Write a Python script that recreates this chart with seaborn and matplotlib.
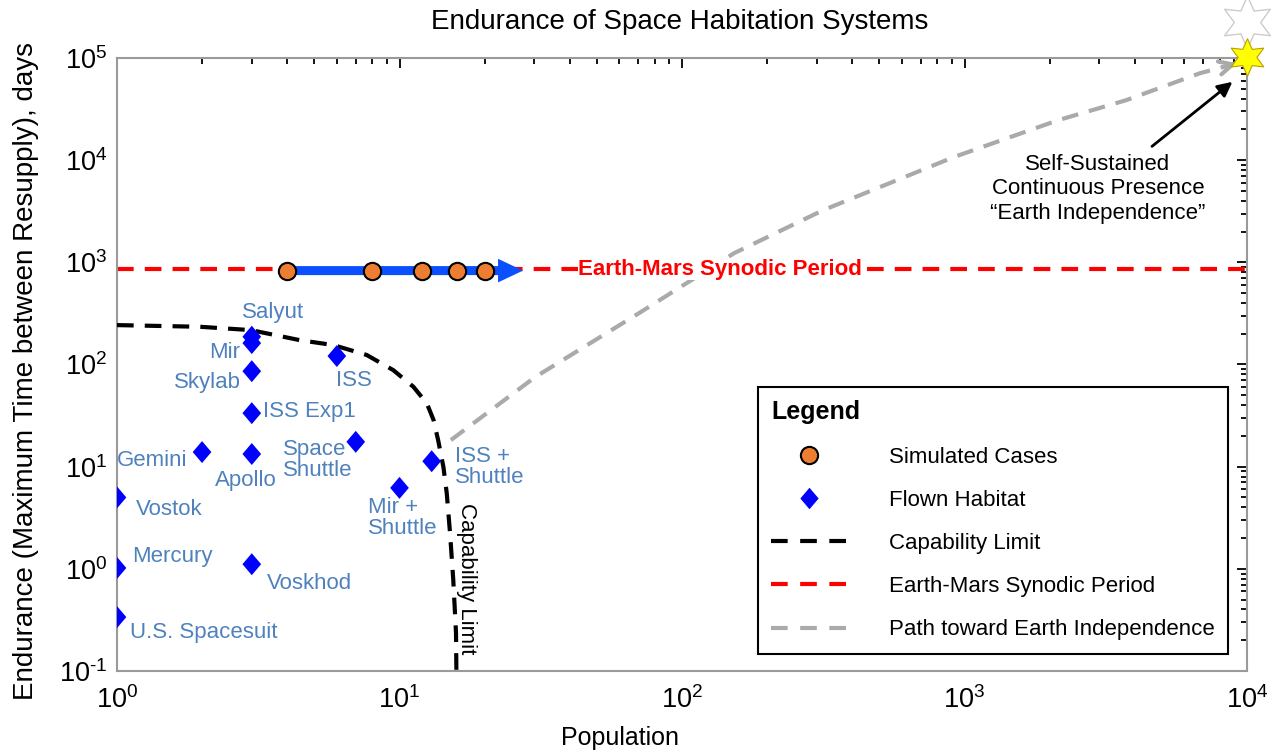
import numpy as np
import pandas as pd
import matplotlib
matplotlib.use("Agg")
import matplotlib.pyplot as plt
import seaborn as sns
from matplotlib.lines import Line2D
from matplotlib.patches import FancyArrowPatch
from matplotlib.path import Path
from matplotlib.ticker import LogLocator, FuncFormatter, NullFormatter

# ---------------- data ----------------
title = "Endurance of Space Habitation Systems"
x_label = "Population"
y_label = "Endurance (Maximum Time between Resupply), days"

habitat_names = ["U.S. Spacesuit", "Mercury", "Vostok", "Gemini", "Apollo", "Voskhod",
                 "ISS Exp1", "Skylab", "Mir", "Salyut", "ISS", "Space\nShuttle",
                 "Mir +\nShuttle", "ISS +\nShuttle"]
habitat_population = [1, 1, 1, 2, 3, 3, 3, 3, 3, 3, 6, 7, 10, 13]
habitat_endurance = [0.337, 1.02, 5.0, 13.9, 13.3, 1.11, 33.4, 86, 162, 187, 121, 17.5, 6.2, 11.3]

sim_population = [4, 8, 12, 16, 20]
sim_endurance = [830, 830, 830, 830, 830]
sim_arrow_end_population = 28

synodic_period = 860
synodic_label = "Earth-Mars Synodic Period"

cap_population = [1.0, 1.97, 2.98, 4.44, 5.83, 7.65, 9.51, 11.2, 12.5, 13.2, 13.7,
                  14.3, 14.7, 15.1, 15.5, 15.85, 15.9]
cap_endurance = [243, 234, 217, 173, 155, 124, 88, 60.5, 41.6, 28.6, 18.2,
                 9.98, 5.48, 2.22, 0.78, 0.235, 0.1]
cap_label = "Capability Limit"

path_population = [15.2, 30.2, 70.4, 153, 316, 915, 2143, 3730, 6820, 9220]
path_endurance = [18.2, 75.3, 318, 1230, 3240, 10700, 24600, 38600, 71000, 88900]

star_population = 1e4
star_endurance = 1.02e5
ghost_star_endurance = 2.24e5
independence_label = "Self-Sustained\nContinuous Presence\n\u201cEarth Independence\u201d"

legend_title = "Legend"
legend_labels = ["Simulated Cases", "Flown Habitat", "Capability Limit",
                 "Earth-Mars Synodic Period", "Path toward Earth Independence"]

# label offsets (points) and alignment for habitat names
label_offsets = {
    "U.S. Spacesuit": (9.4, -10.8, "left"),
    "Mercury": (10.8, 8.6, "left"),
    "Vostok": (13.7, -8.6, "left"),
    "Gemini": (-10.8, -5.8, "right"),
    "Apollo": (-4.3, -19.4, "center"),
    "Voskhod": (10.8, -13.7, "left"),
    "ISS Exp1": (7.9, 1.4, "left"),
    "Skylab": (-7.9, -7.9, "right"),
    "Mir": (-8.6, -6.5, "right"),
    "Salyut": (-7.2, 17.3, "left"),
    "ISS": (-0.7, -17.3, "left"),
    "Space\nShuttle": (-2.2, -13.0, "right"),
    "Mir +\nShuttle": (-23.0, -22.0, "left"),
    "ISS +\nShuttle": (16.6, -4.3, "left"),
}

# ---------------- style ----------------
sns.set_style("white")
plt.rcParams["font.family"] = ["Liberation Sans", "DejaVu Sans"]
plt.rcParams["mathtext.fontset"] = "custom"
plt.rcParams["mathtext.rm"] = "Liberation Sans"
plt.rcParams["mathtext.it"] = "Liberation Sans:italic"
plt.rcParams["mathtext.bf"] = "Liberation Sans:bold"
plt.rcParams["mathtext.default"] = "regular"
plt.rcParams["axes.unicode_minus"] = False
plt.rcParams["lines.scale_dashes"] = False
plt.rcParams["text.color"] = "black"
plt.rcParams["axes.labelcolor"] = "black"
plt.rcParams["xtick.color"] = "black"
plt.rcParams["ytick.color"] = "black"
plt.rcParams["legend.labelcolor"] = "black"

ORANGE = "#ED7D31"
DIAMOND_BLUE = "#0000FF"
ARROW_BLUE = "#0A50FF"
LABEL_BLUE = "#4F81BD"
GRAY = "#AAAAAA"
DASH = (0, (12, 8))

diamond = Path([(0, 1), (0.85, 0), (0, -1), (-0.85, 0), (0, 1)],
               [Path.MOVETO, Path.LINETO, Path.LINETO, Path.LINETO, Path.CLOSEPOLY])


def decade_label(v, _pos):
    e = int(round(np.log10(v)))
    s = str(e).replace("-", r"\text{-}")
    return r"$10^{%s}$" % s


fig = plt.figure(figsize=(12.75, 7.52), dpi=100)
ax = fig.add_axes([117 / 1275, 1 - 671 / 752, 1130 / 1275, 613 / 752])
ax.set_xscale("log")
ax.set_yscale("log")
ax.set_xlim(1, 1e4)
ax.set_ylim(0.1, 1e5)

# synodic period line
ax.axhline(synodic_period, color="red", lw=3, ls=DASH, zorder=2)

# capability limit
sns.lineplot(x=cap_population, y=cap_endurance, sort=False, estimator=None,
             color="black", lw=3, linestyle=DASH, ax=ax, zorder=3)

# path toward earth independence
sns.lineplot(x=path_population, y=path_endurance, sort=False, estimator=None,
             color=GRAY, lw=3, linestyle=DASH, ax=ax, zorder=2)
lx = np.log10(path_population[-2:])
ly = np.log10(path_endurance[-2:])
tail = (10 ** (lx[1] - 0.08 * (lx[1] - lx[0])), 10 ** (ly[1] - 0.08 * (ly[1] - ly[0])))
ax.annotate("", xy=(path_population[-1], path_endurance[-1]), xytext=tail,
            arrowprops=dict(arrowstyle="->", color=GRAY, lw=3, mutation_scale=24),
            zorder=3)

# blue arrow of simulated cases
arrow = FancyArrowPatch((sim_population[0], sim_endurance[0]),
                        (sim_arrow_end_population, sim_endurance[0]),
                        arrowstyle="simple,head_length=18,head_width=17,tail_width=6.5",
                        mutation_scale=1, color=ARROW_BLUE, lw=0, zorder=5)
ax.add_patch(arrow)

# simulated cases
sns.scatterplot(x=sim_population, y=sim_endurance, marker="o", s=155, color=ORANGE,
                edgecolor="black", linewidth=1.5, ax=ax, zorder=6)

# flown habitats
sns.scatterplot(x=habitat_population, y=habitat_endurance, marker=diamond, s=250,
                color=DIAMOND_BLUE, edgecolor="none", linewidth=0, ax=ax, zorder=6)
for name, px, py in zip(habitat_names, habitat_population, habitat_endurance):
    dx, dy, ha = label_offsets[name]
    ax.annotate(name, (px, py), xytext=(dx, dy), textcoords="offset points",
                ha=ha, va="center", multialignment="left", fontsize=16,
                color=LABEL_BLUE, linespacing=1.0, zorder=7)

# synodic label
ax.text((720 - 117) / 1130, synodic_period, synodic_label, transform=ax.get_yaxis_transform(),
        ha="center", va="center", color="red", fontsize=16, fontweight="bold",
        bbox=dict(facecolor="white", edgecolor="none", pad=0), zorder=4)

# capability limit label
ax.text(17.3, 0.8, cap_label, rotation=270, ha="center", va="center", fontsize=16,
        color="black", zorder=7)

# stars
sns.scatterplot(x=[star_population], y=[ghost_star_endurance], marker=(6, 1, 0), s=38 ** 2,
                color="white", edgecolor="#CCCCCC", linewidth=1.0, ax=ax, zorder=9,
                clip_on=False)
sns.scatterplot(x=[star_population], y=[star_endurance], marker=(6, 1, 0), s=27 ** 2,
                color="#FFFF00", edgecolor="#B8A000", linewidth=0.8, ax=ax, zorder=10,
                clip_on=False)

# independence annotation
ax.text((1098 - 117) / 1130, (671 - 189) / 613, independence_label, transform=ax.transAxes,
        ha="center", va="center", fontsize=16, color="black", zorder=7)
ax.annotate("", xy=(0.989, 0.964), xytext=(0.914, 0.853), xycoords="axes fraction",
            textcoords="axes fraction",
            arrowprops=dict(arrowstyle="-|>", color="black", lw=2, mutation_scale=22),
            zorder=8)

# axes
ax.xaxis.set_major_locator(LogLocator(base=10, numticks=20))
ax.yaxis.set_major_locator(LogLocator(base=10, numticks=20))
ax.xaxis.set_minor_locator(LogLocator(base=10, subs=np.arange(2, 10), numticks=100))
ax.yaxis.set_minor_locator(LogLocator(base=10, subs=np.arange(2, 10), numticks=100))
ax.xaxis.set_major_formatter(FuncFormatter(decade_label))
ax.yaxis.set_major_formatter(FuncFormatter(decade_label))
ax.xaxis.set_minor_formatter(NullFormatter())
ax.yaxis.set_minor_formatter(NullFormatter())
ax.tick_params(which="both", direction="in", top=True, right=True, color="black",
               labelcolor="black", width=1.3)
ax.tick_params(which="major", length=7, labelsize=19.5)
ax.tick_params(which="minor", length=4)
ax.tick_params(axis="x", which="major", pad=11)
ax.tick_params(axis="y", which="major", pad=7)
for s in ax.spines.values():
    s.set_color("#9A9A9A")
    s.set_linewidth(1.5)

ax.set_xlabel(x_label, fontsize=18, color="black")
ax.set_ylabel(y_label, fontsize=20, color="black")
ax.xaxis.set_label_coords((620 - 117) / 1130, -0.09)
ax.yaxis.set_label_coords(-0.069, 0.49)
ax.set_title(title, fontsize=20, x=(680 - 117) / 1130, pad=21, color="black")

# legend
handles = [
    Line2D([], [], ls="none", marker="o", ms=12.4, mfc=ORANGE, mec="black", mew=1.5),
    Line2D([], [], ls="none", marker=diamond, ms=15.5, mfc=DIAMOND_BLUE, mec="none"),
    Line2D([], [], color="black", lw=3, ls=(0, (12, 9))),
    Line2D([], [], color="red", lw=3, ls=(0, (12, 9))),
    Line2D([], [], color=GRAY, lw=3, ls=(0, (12, 9))),
]
leg = ax.legend(handles, legend_labels, title=legend_title, loc="upper left",
                bbox_to_anchor=(758 / 1275, 1 - 387 / 752), bbox_transform=fig.transFigure,
                borderaxespad=0, fontsize=16,
                title_fontproperties={"weight": "bold", "size": 18}, alignment="left",
                frameon=True, fancybox=False, edgecolor="black", framealpha=1,
                handlelength=3.4, handletextpad=1.9, labelspacing=1.0, borderpad=0.6)
leg.get_frame().set_linewidth(1.5)
leg.get_title().set_color("black")
leg.set_zorder(20)

fig.savefig("out.png", dpi=100)
